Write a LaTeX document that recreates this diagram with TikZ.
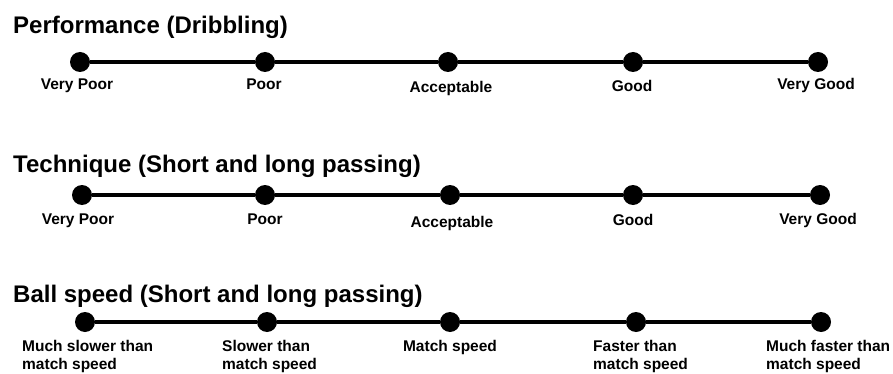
\documentclass[tikz,border=0pt]{standalone}
\usepackage{fontspec}
\setmainfont{Liberation Sans}

\tikzset{
	dot/.style={circle, fill=black, inner sep=0pt, minimum size=20pt},
	scaleline/.style={line width=4pt},
	heading/.style={anchor=base west, inner sep=0pt, font=\fontsize{24}{28}\selectfont\bfseries},
	lbl/.style={anchor=base, inner sep=0pt, font=\fontsize{15.5}{17.5}\selectfont\bfseries},
	lblleft/.style={lbl, anchor=base west, align=left}
}

\begin{document}
\begin{tikzpicture}[x=1pt, y=-1pt]

	\useasboundingbox (0,0) rectangle (893,374);

	% first scale
	\node[heading] (perf) at (13,34) {Performance (Dribbling)};
	\foreach \x [count=\i] in {80,265,448,633,818}
		\node[dot] (perf\i) at (\x,62) {};
	\draw[scaleline] (perf1) -- (perf2) -- (perf3) -- (perf4) -- (perf5);
	\foreach \x/\y/\t [count=\i] in {77/90/Very Poor, 264/90/Poor, 451/93/Acceptable, 632/92/Good, 816/90/Very Good}
		\node[lbl] (perflbl\i) at (\x,\y) {\t};

	% second scale
	\node[heading] (tech) at (13,172) {Technique (Short and long passing)};
	\foreach \x [count=\i] in {82,265,450,633,820}
		\node[dot] (tech\i) at (\x,195) {};
	\draw[scaleline] (tech1) -- (tech2) -- (tech3) -- (tech4) -- (tech5);
	\foreach \x/\y/\t [count=\i] in {78/224/Very Poor, 265/224/Poor, 452/227/Acceptable, 633/225/Good, 818/224/Very Good}
		\node[lbl] (techlbl\i) at (\x,\y) {\t};

	% third scale, two-line labels sit on their last baseline
	\node[heading] (speed) at (13,302) {Ball speed (Short and long passing)};
	\foreach \x [count=\i] in {85,267,450,636,821}
		\node[dot] (speed\i) at (\x,322) {};
	\draw[scaleline] (speed1) -- (speed2) -- (speed3) -- (speed4) -- (speed5);
	\node[lblleft] (speedlbl1) at (22,369) {Much slower than\\match speed};
	\node[lblleft] (speedlbl2) at (222,369) {Slower than\\match speed};
	\node[lbl] (speedlbl3) at (450,351.5) {Match speed};
	\node[lblleft] (speedlbl4) at (593,369) {Faster than\\match speed};
	\node[lblleft] (speedlbl5) at (766,369) {Much faster than\\match speed};

\end{tikzpicture}
\end{document}
